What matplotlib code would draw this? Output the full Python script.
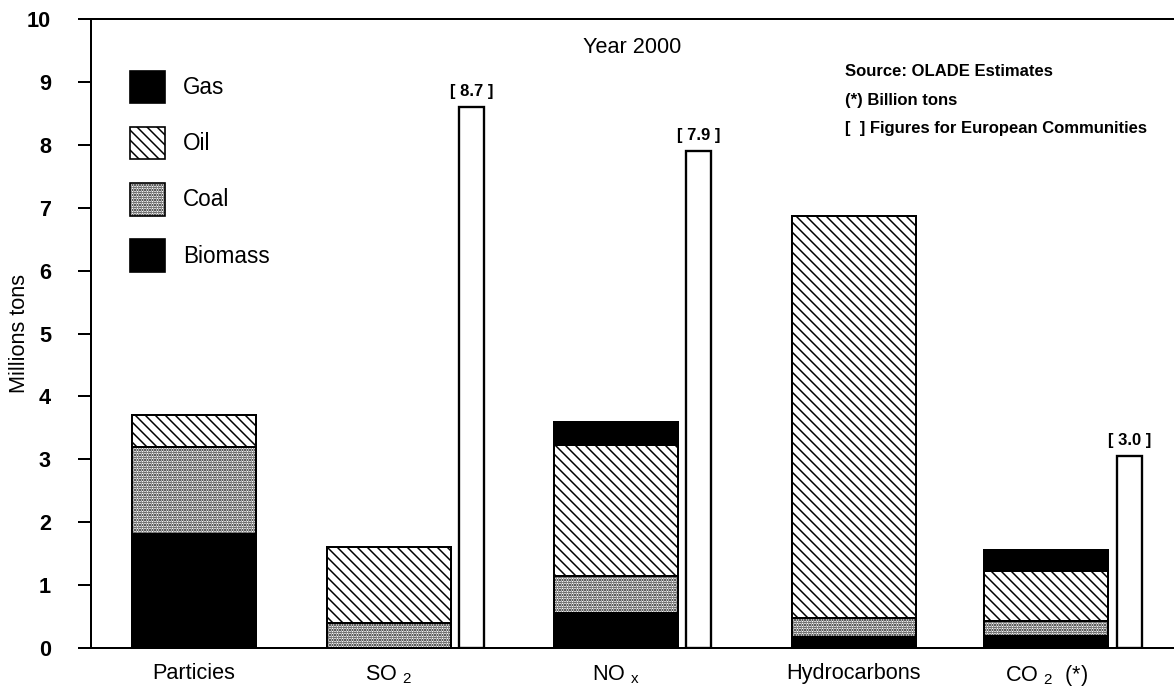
import numpy as np
import matplotlib
matplotlib.use('Agg')
import matplotlib.pyplot as plt
from matplotlib.patches import Patch

plt.rcParams['font.family'] = ['Liberation Sans', 'DejaVu Sans']
plt.rcParams['mathtext.fontset'] = 'custom'
plt.rcParams['mathtext.rm'] = 'Liberation Sans'
plt.rcParams['hatch.linewidth'] = 0.9

# emissions, year 2000 (millions tons; CO2 in billion tons)
categories = ['Particies', r'SO $_\mathregular{2}$', r'NO $_\mathregular{x}$',
              'Hydrocarbons', r'CO $_\mathregular{2}$  (*)']
biomass = np.array([1.81, 0.00, 0.56, 0.17, 0.19])
coal = np.array([1.38, 0.40, 0.58, 0.31, 0.24])
oil = np.array([0.51, 1.20, 2.08, 6.39, 0.80])
gas = np.array([0.00, 0.00, 0.38, 0.00, 0.33])

# European Communities figures
ec_cats = [1, 2, 4]
ec_vals = [8.6, 7.9, 3.05]
ec_labels = ['[ 8.7 ]', '[ 7.9 ]', '[ 3.0 ]']

# layout
pos = np.array([0.83, 2.40, 4.23, 6.15, 7.70])
ec_off = 0.67
oil_hatch = '\\\\\\\\'
coal_hatch = '........'

fig = plt.figure(figsize=(1174 / 120, 690 / 120), dpi=120)
ax = fig.add_axes([91 / 1174, 42 / 690, 1083 / 1174, 629 / 690])

layers = [(biomass, 'black', None), (coal, 'white', coal_hatch),
          (oil, 'white', oil_hatch), (gas, 'black', None)]
bottom = np.zeros(len(pos))
for vals, fc, hatch in layers:
    ax.bar(pos, vals, width=1.0, bottom=bottom, color=fc, edgecolor='black',
           hatch=hatch, linewidth=1.2)
    bottom += vals

ec_x = pos[ec_cats] + ec_off
ax.bar(ec_x, ec_vals, width=0.2, color='white', edgecolor='black', linewidth=1.4)
for x, v, lab in zip(ec_x, ec_vals, ec_labels):
    ax.annotate(lab, (x, v), xytext=(0, 5), textcoords='offset points',
                ha='center', va='bottom', fontsize=10, fontweight='bold')

ax.set_xlim(0, 8.73)
ax.set_ylim(0, 10)
ax.set_yticks(range(0, 11))
ax.set_xticks(pos)
ax.set_xticklabels(categories, fontsize=13)
ax.tick_params(axis='x', length=0, pad=9)
ax.tick_params(axis='y', direction='out', length=8, width=1.2, pad=16, labelsize=13)
for t in ax.get_yticklabels():
    t.set_fontweight('bold')
ax.spines['right'].set_visible(False)
for s in ['left', 'top', 'bottom']:
    ax.spines[s].set_linewidth(1.2)
ax.set_ylabel('Millions tons', fontsize=13, labelpad=-2)

ax.text(0.5, 0.955, 'Year 2000', transform=ax.transAxes, ha='center',
        va='center', fontsize=13)
notes = ['Source: OLADE Estimates', '(*) Billion tons',
         '[  ] Figures for European Communities']
for i, n in enumerate(notes):
    ax.text(0.696, 0.916 - i * 0.045, n, transform=ax.transAxes, ha='left',
            va='center', fontsize=10, fontweight='bold')

handles = [Patch(facecolor='black', edgecolor='black'),
           Patch(facecolor='white', edgecolor='black', hatch=oil_hatch),
           Patch(facecolor='white', edgecolor='black', hatch=coal_hatch),
           Patch(facecolor='black', edgecolor='black')]
ax.legend(handles, ['Gas', 'Oil', 'Coal', 'Biomass'], loc='upper left',
          bbox_to_anchor=(0.036, 0.918), frameon=False, fontsize=13.5,
          handlelength=1.55, handleheight=1.85, labelspacing=1.05,
          handletextpad=0.8, borderpad=0, borderaxespad=0)

fig.savefig('out.png', dpi=120)
